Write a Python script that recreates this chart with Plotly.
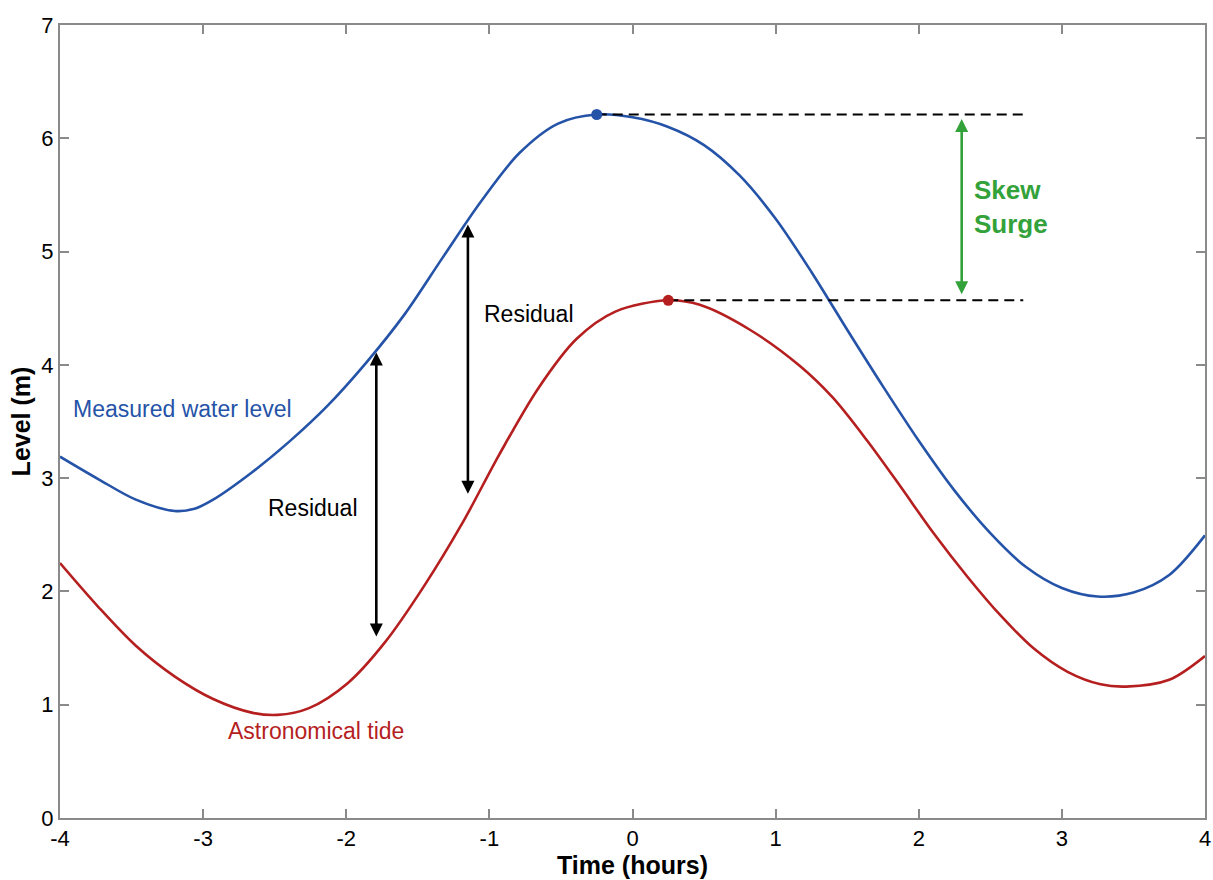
import plotly.graph_objects as go

# Measured water level (blue)
measured_t = [-4.0, -3.73, -3.47, -3.20, -3.06, -2.93, -2.66, -2.40, -2.13, -1.86, -1.59, -1.33, -1.06,
              -0.79, -0.52, -0.25, 0.0, 0.25, 0.5, 0.75, 1.0, 1.25, 1.5, 1.75, 2.0, 2.25, 2.5, 2.75,
              3.0, 3.25, 3.5, 3.75, 4.0]
measured_v = [3.19, 2.99, 2.81, 2.71, 2.73, 2.81, 3.05, 3.32, 3.64, 4.02, 4.45, 4.94, 5.44,
              5.87, 6.13, 6.21, 6.185, 6.10, 5.94, 5.67, 5.29, 4.82, 4.31, 3.81, 3.33, 2.89, 2.515, 2.215,
              2.03, 1.955, 1.99, 2.145, 2.495]

# Astronomical tide (red)
tide_t = [-4.0, -3.73, -3.47, -3.20, -2.93, -2.66, -2.48, -2.26, -1.99, -1.73, -1.46, -1.19, -0.93,
          -0.66, -0.39, -0.12, 0.25, 0.47, 0.82, 1.17, 1.40, 1.64, 1.87, 2.10, 2.34, 2.57, 2.80,
          3.04, 3.27, 3.45, 3.75, 4.0]
tide_v = [2.25, 1.86, 1.52, 1.25, 1.05, 0.93, 0.91, 0.97, 1.19, 1.55, 2.04, 2.60, 3.21,
          3.79, 4.23, 4.47, 4.57, 4.53, 4.31, 3.99, 3.71, 3.33, 2.93, 2.52, 2.13, 1.79, 1.50,
          1.29, 1.18, 1.16, 1.22, 1.43]

# Peaks
peak_t = [-0.25, 0.25]
peak_v = [6.21, 4.57]
dash_end_t = 2.73

# Residual arrows: time, top, bottom
residual_t = [-1.79, -1.15]
residual_top = [4.11, 5.24]
residual_bottom = [1.59, 2.85]
residual_label_t = [-2.23, -0.72]
residual_label_v = [2.74, 4.45]

# Skew surge arrow
skew_t = 2.30

x_ticks = [-4, -3, -2, -1, 0, 1, 2, 3, 4]
y_ticks = [0, 1, 2, 3, 4, 5, 6, 7]

BLUE = "#2553a8"
RED = "#b51f1f"
GREEN = "#33a23a"
AXIS = "#8a8a8a"
FONT = "Liberation Sans, Arial, sans-serif"

fig = go.Figure()
fig.add_trace(go.Scatter(x=measured_t, y=measured_v, mode="lines",
                         line=dict(color=BLUE, width=2.6, shape="spline", smoothing=0.9),
                         showlegend=False, hoverinfo="skip"))
fig.add_trace(go.Scatter(x=tide_t, y=tide_v, mode="lines",
                         line=dict(color=RED, width=2.6, shape="spline", smoothing=0.9),
                         showlegend=False, hoverinfo="skip"))

for pt, pv in zip(peak_t, peak_v):
    fig.add_trace(go.Scatter(x=[pt, dash_end_t], y=[pv, pv], mode="lines",
                             line=dict(color="black", width=2, dash="10px,6px"),
                             showlegend=False, hoverinfo="skip"))

fig.add_trace(go.Scatter(x=peak_t, y=peak_v, mode="markers",
                         marker=dict(color=[BLUE, RED], size=11),
                         showlegend=False, hoverinfo="skip"))

annotations = []
for t, top, bot in zip(residual_t, residual_top, residual_bottom):
    annotations.append(dict(x=t, y=top, ax=t, ay=bot, xref="x", yref="y", axref="x", ayref="y",
                            showarrow=True, arrowhead=2, startarrowhead=2, arrowside="end+start",
                            arrowwidth=2.6, arrowsize=1, startarrowsize=1, arrowcolor="black", text=""))
for t, v in zip(residual_label_t, residual_label_v):
    annotations.append(dict(x=t, y=v, xref="x", yref="y", text="Residual", showarrow=False,
                            font=dict(family=FONT, size=23, color="black")))

annotations.append(dict(x=skew_t, y=peak_v[0] - 0.04, ax=skew_t, ay=peak_v[1] + 0.04,
                        xref="x", yref="y", axref="x", ayref="y",
                        showarrow=True, arrowhead=2, startarrowhead=2, arrowside="end+start",
                        arrowwidth=2.6, arrowsize=1, startarrowsize=1, arrowcolor=GREEN, text=""))
annotations.append(dict(x=2.37, y=5.39, xref="x", yref="y", text="<b>Skew<br>Surge</b>",
                        showarrow=False, xanchor="left", align="left",
                        font=dict(family=FONT, size=26, color=GREEN)))

annotations.append(dict(x=-3.92, y=3.61, xref="x", yref="y", text="Measured water level",
                        showarrow=False, xanchor="left",
                        font=dict(family=FONT, size=23, color=BLUE)))
annotations.append(dict(x=-2.21, y=0.77, xref="x", yref="y", text="Astronomical tide",
                        showarrow=False,
                        font=dict(family=FONT, size=23, color=RED)))

fig.update_layout(
    width=1213, height=880,
    margin=dict(l=60, r=8, t=25, b=62),
    plot_bgcolor="white", paper_bgcolor="white",
    annotations=annotations,
    font=dict(family=FONT, color="black"),
)
fig.update_xaxes(range=[-4, 4], tickvals=x_ticks, ticktext=[str(v) for v in x_ticks],
                 showline=True, mirror="ticks", linecolor=AXIS, linewidth=2,
                 ticks="inside", ticklen=9, tickwidth=1.5, tickcolor=AXIS,
                 showgrid=False, zeroline=False, automargin=False,
                 tickfont=dict(family=FONT, size=22, color="black"),
                 title=dict(text="<b>Time (hours)</b>", font=dict(family=FONT, size=25, color="black"), standoff=4))
fig.update_yaxes(range=[0, 7], tickvals=y_ticks, ticktext=[str(v) for v in y_ticks],
                 showline=True, mirror="ticks", linecolor=AXIS, linewidth=2,
                 ticks="inside", ticklen=9, tickwidth=1.5, tickcolor=AXIS,
                 showgrid=False, zeroline=False, automargin=False,
                 tickfont=dict(family=FONT, size=22, color="black"),
                 title=dict(text="<b>Level (m)</b>", font=dict(family=FONT, size=25, color="black"), standoff=4))

fig.write_html("out.html", config={"displayModeBar": False},
               post_script="document.body.style.margin='0';document.body.style.overflow='hidden';")
